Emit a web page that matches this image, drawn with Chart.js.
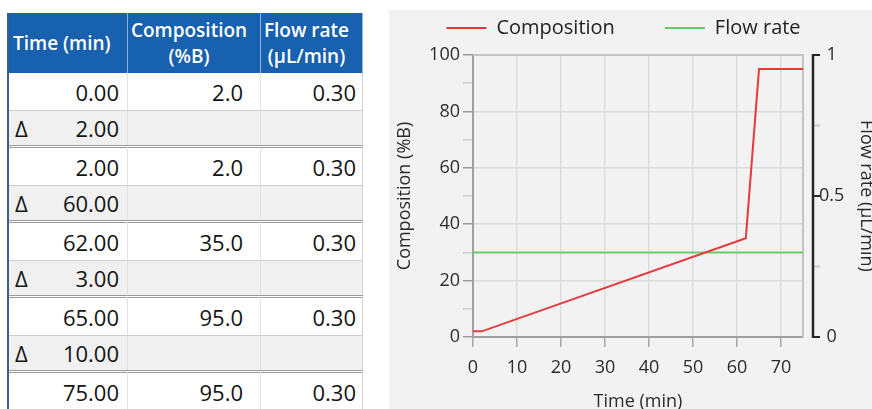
<!DOCTYPE html>
<html>
<head>
<meta charset="utf-8">
<script src="https://cdn.jsdelivr.net/npm/chart.js@4.4.1/dist/chart.umd.min.js"></script>
<style>
    html, body { margin: 0; padding: 0; background: #fff; }
    body { width: 872px; height: 409px; position: relative; overflow: hidden; font-family: 'Open Sans', sans-serif; }

    /* gradient table */
    #gradientTable { position: absolute; left: 7px; top: 13px; border-collapse: separate; border-spacing: 0; table-layout: fixed; border-left: 2px solid #3d5d8f; }
    #gradientTable th { background: #1761ae; color: #fff; font-weight: 600; font-size: 19px; line-height: 26px; height: 60px; box-sizing: border-box; padding: 0; border-right: 1px solid #8fb0da; vertical-align: middle; white-space: nowrap; }
    #gradientTable th.time { text-align: left; padding-left: 4px; }
    #gradientTable th.mid { text-align: center; padding-right: 10px; }
    #gradientTable td { font-size: 22px; line-height: 24px; color: #141414; text-align: right; box-sizing: border-box; padding: 0; border-right: 1px solid #e2e2e2; vertical-align: middle; white-space: nowrap; }
    #gradientTable tr.step td { background: #fff; height: 41px; border-top: 3px double #9c9c9c; border-bottom: 1px solid #cfcfcf; }
    #gradientTable tr.step.first td { height: 38px; border-top: none; }
    #gradientTable tr.delta td { background: #f0f0f0; height: 34px; }
    #gradientTable td.c1 { padding-right: 8px; }
    #gradientTable td.c2 { padding-right: 17px; }
    #gradientTable td.c3 { padding-right: 6px; border-right-color: #d4d4d4; }
    #gradientTable .tri { float: left; padding-left: 6px; }

    /* chart panel */
    #panel { position: absolute; left: 389px; top: 10px; width: 483px; height: 399px; background: #f2f2f2; overflow: hidden; }
    #chartWrap { position: absolute; left: 0; top: 0; width: 487px; height: 399px; }
</style>
</head>
<body>

<table id="gradientTable">
    <colgroup>
        <col style="width:119px">
        <col style="width:133px">
        <col style="width:102px">
    </colgroup>
    <thead>
        <tr>
            <th class="time">Time (min)</th>
            <th class="mid">Composition<br>(%B)</th>
            <th class="mid">Flow rate<br>(µL/min)</th>
        </tr>
    </thead>
    <tbody id="gradientBody"></tbody>
</table>

<div id="panel">
    <div id="chartWrap"><canvas id="gradientChart"></canvas></div>
</div>

<script>
// Gradient program
const timeMin = [0, 2, 62, 65, 75];
const compositionB = [2, 2, 35, 95, 95];
const flowRate = [0.3, 0.3, 0.3, 0.3, 0.3];
const stepDurations = [2, 60, 3, 10];

// Axis tick labels
const compTickLabels = [0, 20, 40, 60, 80, 100];
const flowTickLabels = [0, 0.5, 1];
const timeTickLabels = [0, 10, 20, 30, 40, 50, 60, 70];

// Fill the table
const tbody = document.getElementById('gradientBody');
timeMin.forEach((t, i) => {
    const row = document.createElement('tr');
    row.className = 'step' + (i === 0 ? ' first' : '');
    row.innerHTML = '<td class="c1">' + t.toFixed(2) + '</td>' +
        '<td class="c2">' + compositionB[i].toFixed(1) + '</td>' +
        '<td class="c3">' + flowRate[i].toFixed(2) + '</td>';
    tbody.appendChild(row);

    if (i < stepDurations.length) {
        const d = document.createElement('tr');
        d.className = 'delta';
        d.innerHTML = '<td class="c1"><span class="tri">Δ</span>' + stepDurations[i].toFixed(2) + '</td>' +
            '<td class="c2"></td><td class="c3"></td>';
        tbody.appendChild(d);
    }
});

const tickFont = { family: "'Open Sans', sans-serif", size: 18 };
const textColor = '#2b2b2b';

// light frame on top and right of the plot
const plotFrame = {
    id: 'plotFrame',
    beforeDatasetsDraw(chart) {
        const a = chart.chartArea;
        const ctx = chart.ctx;
        ctx.save();
        ctx.strokeStyle = '#c4c4c4';
        ctx.lineWidth = 2;
        ctx.beginPath();
        ctx.moveTo(a.left, a.top);
        ctx.lineTo(a.right, a.top);
        ctx.lineTo(a.right, a.bottom);
        ctx.stroke();
        ctx.restore();
    }
};

// detached bracket-style axis for the flow rate
const flowAxisBracket = {
    id: 'flowAxisBracket',
    afterDraw(chart) {
        const s = chart.scales.y1;
        const ctx = chart.ctx;
        const x = s.left + 10;
        ctx.save();
        s.ticks.forEach(t => {
            const py = s.getPixelForValue(t.value);
            ctx.strokeStyle = flowTickLabels.includes(t.value) ? '#262626' : '#c8c8c8';
            ctx.lineWidth = 2;
            ctx.beginPath();
            ctx.moveTo(x, py);
            ctx.lineTo(x + 7, py);
            ctx.stroke();
        });
        ctx.strokeStyle = '#262626';
        ctx.lineWidth = 2.5;
        ctx.beginPath();
        ctx.moveTo(x, s.getPixelForValue(s.max) - 1);
        ctx.lineTo(x, s.getPixelForValue(s.min) + 1);
        ctx.stroke();
        ctx.restore();
    }
};

new Chart(document.getElementById('gradientChart'), {
    type: 'line',
    data: {
        datasets: [
            {
                label: 'Composition',
                data: timeMin.map((t, i) => ({ x: t, y: compositionB[i] })),
                borderColor: '#e6393e',
                backgroundColor: '#e6393e',
                borderWidth: 2,
                pointRadius: 0,
                tension: 0,
                yAxisID: 'y'
            },
            {
                label: 'Flow rate',
                data: timeMin.map((t, i) => ({ x: t, y: flowRate[i] })),
                borderColor: '#67cc67',
                backgroundColor: '#67cc67',
                borderWidth: 2,
                pointRadius: 0,
                tension: 0,
                yAxisID: 'y1'
            }
        ]
    },
    options: {
        responsive: true,
        maintainAspectRatio: false,
        animation: false,
        layout: { padding: { top: -42, left: 0, right: 18, bottom: 0 } },
        plugins: {
            legend: {
                position: 'top',
                labels: {
                    boxWidth: 40,
                    boxHeight: 2,
                    padding: 50,
                    color: '#222',
                    font: { family: "'Open Sans', sans-serif", size: 20 },
                    generateLabels: chart => Chart.defaults.plugins.legend.labels.generateLabels(chart)
                        .map(l => Object.assign(l, { fillStyle: l.strokeStyle, lineWidth: 0 }))
                }
            },
            // empty spacer between legend and plot
            title: { display: true, text: '', weight: 500, padding: 0, font: { size: 7, lineHeight: 1 } },
            tooltip: { enabled: false }
        },
        scales: {
            x: {
                type: 'linear',
                min: 0,
                max: 75,
                ticks: {
                    stepSize: 10,
                    includeBounds: false,
                    callback: v => timeTickLabels.includes(v) ? v : '',
                    color: textColor,
                    font: tickFont,
                    padding: 10,
                    maxRotation: 0
                },
                grid: { color: '#dcdcdc', lineWidth: 1.5, tickColor: '#a8a8a8', tickLength: 10, tickWidth: 1.5 },
                border: { color: '#a0a0a0', width: 2 },
                title: { display: true, text: 'Time (min)', color: textColor, font: tickFont, padding: { top: 0, bottom: -4 } },
                afterFit: s => { s.height = 72; }
            },
            y: {
                position: 'left',
                min: 0,
                max: 100,
                ticks: {
                    stepSize: 10,
                    callback: v => compTickLabels.includes(v) ? v : '',
                    color: textColor,
                    font: tickFont,
                    padding: 3
                },
                grid: {
                    color: c => compTickLabels.includes(c.tick.value) ? '#dcdcdc' : 'rgba(0,0,0,0)',
                    tickColor: c => compTickLabels.includes(c.tick.value) ? '#9c9c9c' : '#cdcdcd',
                    lineWidth: 1.5,
                    tickLength: 10,
                    tickWidth: 1.5
                },
                border: { color: '#a0a0a0', width: 2 },
                title: { display: true, text: 'Composition (%B)', color: textColor, font: tickFont, padding: { top: 5, bottom: 0 } },
                afterFit: s => { s.width = 84; }
            },
            y1: {
                position: 'right',
                min: 0,
                max: 1,
                ticks: {
                    stepSize: 0.25,
                    callback: v => flowTickLabels.includes(v) ? v : '',
                    crossAlign: 'center',
                    color: textColor,
                    font: tickFont,
                    padding: 16
                },
                grid: { display: false, drawTicks: false },
                border: { display: false },
                title: { display: true, text: 'Flow rate (µL/min)', color: textColor, font: tickFont, padding: { top: -19, bottom: 0 } },
                afterFit: s => { s.width = 55; }
            }
        }
    },
    plugins: [plotFrame, flowAxisBracket]
});
</script>
</body>
</html>
